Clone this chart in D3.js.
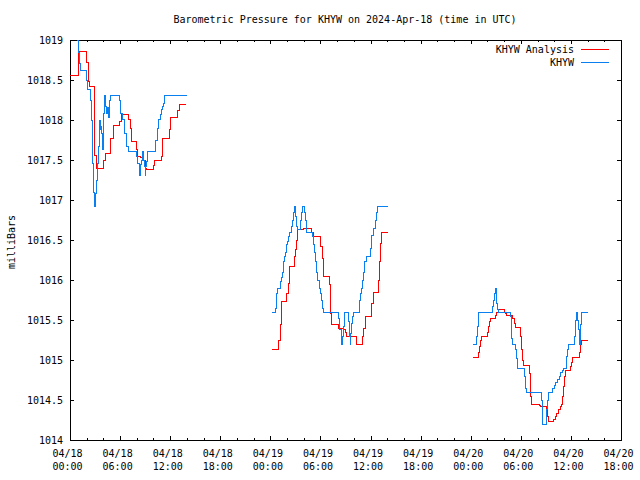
<!DOCTYPE html>
<html>
<head>
<meta charset="utf-8">
<script src="https://cdn.jsdelivr.net/npm/d3@7"></script>
<style>
  html, body { margin: 0; padding: 0; background: #fff; }
  svg { display: block; }
  text { font-family: "DejaVu Sans Mono", "Liberation Mono", monospace; font-size: 10px; fill: #000; }
</style>
</head>
<body>
<svg id="chart" width="640" height="480"></svg>
<script>
// ---------- DATA (hours since 2024-04-18 00:00 UTC, millibars) ----------
const chartTitle = "Barometric Pressure for KHYW on 2024-Apr-18 (time in UTC)";
const yLabel = "milliBars";
const seriesNames = ["KHYW Analysis", "KHYW"];
const yTicks = [1014, 1014.5, 1015, 1015.5, 1016, 1016.5, 1017, 1017.5, 1018, 1018.5, 1019];

const analysisDay1 = [
  [0, 1018.56], [1.0, 1018.86], [2.0, 1018.72], [2.2, 1018.48], [2.35, 1018.42],
  [2.95, 1017.56], [3.15, 1017.40], [4.0, 1017.49], [4.2, 1017.58], [4.9, 1017.77],
  [5.27, 1017.93], [5.95, 1017.98], [6.19, 1018.07], [6.99, 1018.01], [7.19, 1017.9],
  [7.31, 1017.73], [7.91, 1017.63], [8.07, 1017.54], [8.5, 1017.53], [8.86, 1017.5],
  [9.07, 1017.40], [9.19, 1017.38], [9.98, 1017.43], [10.18, 1017.49], [10.98, 1017.54],
  [11.1, 1017.77], [11.9, 1017.88], [12.06, 1018.03], [12.86, 1018.12], [13.1, 1018.2],
  [13.95, 1018.2]
];
const analysisDay2 = [
  [24.24, 1015.13], [24.96, 1015.24], [25.16, 1015.44], [25.28, 1015.63], [25.36, 1015.73],
  [25.96, 1015.83], [26.16, 1015.96], [26.24, 1016.08], [26.35, 1016.17], [26.95, 1016.29],
  [27.07, 1016.38], [27.15, 1016.5], [27.23, 1016.63], [28.0, 1016.65], [28.95, 1016.60],
  [29.15, 1016.55], [30.03, 1016.42], [30.2, 1016.27], [30.35, 1016.05], [31.03, 1015.94],
  [31.15, 1015.75], [31.23, 1015.58], [31.35, 1015.44], [32.15, 1015.40], [32.75, 1015.38],
  [32.95, 1015.35], [33.15, 1015.30], [33.62, 1015.29], [34.26, 1015.23], [34.34, 1015.20],
  [35.02, 1015.30], [35.14, 1015.40], [35.34, 1015.54], [36.14, 1015.71], [36.34, 1015.85],
  [37.01, 1016.0], [37.13, 1016.23], [37.21, 1016.46], [37.33, 1016.60], [38.06, 1016.60]
];
const analysisDay3 = [
  [48.31, 1015.03], [48.91, 1015.10], [49.03, 1015.17], [49.19, 1015.25], [49.31, 1015.30],
  [49.99, 1015.35], [50.11, 1015.42], [50.23, 1015.48], [50.39, 1015.52], [50.99, 1015.56],
  [51.11, 1015.60], [51.31, 1015.63], [51.99, 1015.60], [52.19, 1015.58], [52.31, 1015.56],
  [53.03, 1015.52], [53.19, 1015.46], [53.31, 1015.41], [53.99, 1015.29], [54.11, 1015.13],
  [54.22, 1015.0], [54.31, 1014.93], [54.98, 1014.83], [55.10, 1014.69], [55.19, 1014.54],
  [55.31, 1014.45], [56.18, 1014.43], [56.30, 1014.42], [57.10, 1014.38], [57.22, 1014.29],
  [57.30, 1014.23], [57.90, 1014.26], [58.10, 1014.29], [58.30, 1014.33], [58.50, 1014.38],
  [58.70, 1014.42], [58.90, 1014.45], [59.02, 1014.54], [59.10, 1014.67], [59.22, 1014.79],
  [59.38, 1014.87], [59.98, 1014.92], [60.10, 1014.97], [60.22, 1015.03], [61.02, 1015.10],
  [61.18, 1015.19], [61.30, 1015.25], [62.02, 1015.25]
];

const stationDay1 = [
  [0.88, 1019.0], [1.0, 1018.85], [1.12, 1018.71], [1.28, 1018.62], [2.0, 1018.5],
  [2.12, 1018.38], [2.48, 1018.25], [2.56, 1018.0], [2.64, 1017.75], [2.72, 1017.46],
  [2.8, 1017.10], [2.9, 1016.92], [3.0, 1017.0], [3.08, 1017.08], [3.2, 1017.25],
  [3.32, 1017.46], [3.44, 1017.67], [3.52, 1017.79], [3.59, 1018.0], [3.67, 1017.88],
  [3.75, 1017.92], [3.83, 1017.83], [3.91, 1017.63], [3.99, 1017.73], [4.07, 1018.08],
  [4.19, 1018.31], [4.31, 1018.17], [4.39, 1018.08], [4.51, 1018.16], [4.59, 1018.03],
  [4.71, 1018.16], [4.79, 1018.25], [4.87, 1018.31], [5.91, 1018.25], [5.99, 1018.08],
  [6.3, 1018.01], [6.55, 1017.83], [6.75, 1017.67], [6.99, 1017.61], [7.99, 1017.54],
  [8.11, 1017.46], [8.27, 1017.31], [8.39, 1017.38], [8.47, 1017.44], [8.59, 1017.5],
  [8.67, 1017.61], [8.79, 1017.5], [8.87, 1017.42], [8.99, 1017.31], [9.07, 1017.42],
  [9.19, 1017.48], [9.27, 1017.61], [10.3, 1017.75], [10.46, 1017.90], [10.58, 1018.01],
  [10.86, 1018.07], [10.98, 1018.13], [11.1, 1018.17], [11.18, 1018.21], [11.26, 1018.31],
  [13.98, 1018.31]
];
const stationDay2 = [
  [24.24, 1015.60], [24.56, 1015.65], [24.68, 1015.75], [24.76, 1015.83], [24.88, 1015.90],
  [25.16, 1015.98], [25.36, 1016.03], [25.47, 1016.10], [25.56, 1016.23], [25.68, 1016.29],
  [25.76, 1016.33], [25.87, 1016.35], [25.96, 1016.44], [26.08, 1016.48], [26.16, 1016.54],
  [26.28, 1016.60], [26.55, 1016.67], [26.67, 1016.75], [26.75, 1016.79], [26.83, 1016.85],
  [26.95, 1016.92], [27.03, 1016.85], [27.07, 1016.79], [27.15, 1016.67], [27.27, 1016.63],
  [27.55, 1016.67], [27.63, 1016.75], [27.75, 1016.85], [27.87, 1016.92], [28.07, 1016.85],
  [28.15, 1016.75], [28.27, 1016.67], [28.35, 1016.60], [29.03, 1016.54], [29.15, 1016.44],
  [29.27, 1016.35], [29.43, 1016.23], [29.55, 1016.10], [29.67, 1016.0], [29.83, 1015.90],
  [29.95, 1015.83], [30.15, 1015.75], [30.27, 1015.65], [30.35, 1015.60], [32.22, 1015.52],
  [32.34, 1015.38], [32.54, 1015.20], [32.66, 1015.29], [32.74, 1015.42], [32.86, 1015.52],
  [32.94, 1015.60], [33.34, 1015.48], [33.42, 1015.29], [33.54, 1015.20], [33.62, 1015.33],
  [33.74, 1015.46], [33.82, 1015.54], [33.94, 1015.60], [34.62, 1015.65], [34.66, 1015.75],
  [34.74, 1015.83], [34.86, 1015.90], [35.06, 1016.0], [35.14, 1016.10], [35.26, 1016.23],
  [35.46, 1016.29], [35.54, 1016.30], [36.02, 1016.40], [36.06, 1016.46], [36.14, 1016.56],
  [36.34, 1016.65], [36.54, 1016.75], [36.74, 1016.85], [36.82, 1016.92], [38.06, 1016.92]
];
const stationDay3 = [
  [48.31, 1015.20], [48.71, 1015.29], [48.83, 1015.42], [48.91, 1015.60], [50.63, 1015.67],
  [50.71, 1015.75], [50.83, 1015.83], [50.91, 1015.90], [51.03, 1015.81], [51.11, 1015.71],
  [51.23, 1015.63], [51.31, 1015.60], [52.71, 1015.54], [52.83, 1015.42], [52.91, 1015.27],
  [52.99, 1015.20], [53.39, 1015.13], [53.51, 1015.02], [53.59, 1014.90], [54.39, 1014.79],
  [54.51, 1014.71], [54.59, 1014.65], [54.70, 1014.60], [56.50, 1014.50], [56.58, 1014.33],
  [56.62, 1014.20], [57.02, 1014.27], [57.10, 1014.38], [57.18, 1014.50], [57.30, 1014.60],
  [57.8, 1014.64], [58.0, 1014.68], [58.2, 1014.72], [58.4, 1014.76], [58.6, 1014.80],
  [58.8, 1014.84], [59.0, 1014.87], [59.10, 1014.89], [59.42, 1014.96], [59.50, 1015.04],
  [59.58, 1015.13], [59.70, 1015.20], [60.41, 1015.29], [60.49, 1015.40], [60.57, 1015.50],
  [60.61, 1015.60], [60.77, 1015.50], [60.89, 1015.38], [60.97, 1015.29], [61.01, 1015.20],
  [61.09, 1015.31], [61.17, 1015.44], [61.21, 1015.60], [62.01, 1015.60]
];

// ---------- CHART ----------
const seriesColors = ["#ff0000", "#0a80f0"];
const series = [
  { name: seriesNames[0], color: seriesColors[0], segments: [analysisDay1, analysisDay2, analysisDay3] },
  { name: seriesNames[1], color: seriesColors[1], segments: [stationDay1, stationDay2, stationDay3] }
];

const t0 = Date.UTC(2024, 3, 18, 0, 0);
const toDate = h => new Date(t0 + h * 3600e3);

const m = { left: 70, right: 621, top: 40, bottom: 440 };

const svg = d3.select("#chart");

const x = d3.scaleUtc().domain([toDate(0), toDate(66)]).range([m.left, m.right]);
const y = d3.scaleLinear().domain([1014, 1019]).range([m.bottom, m.top]);

const majorTimes = d3.utcHour.every(6).range(toDate(0), toDate(66.01));
const minorTimes = d3.utcHour.every(2).range(toDate(0), toDate(66.01))
  .filter(d => d.getUTCHours() % 6 !== 0);

const fmtDay = d3.utcFormat("%m/%d");
const fmtTime = d3.utcFormat("%H:%M");

svg.append("defs").append("clipPath").attr("id", "plotclip")
  .append("rect").attr("x", m.left).attr("y", m.top)
  .attr("width", m.right - m.left).attr("height", m.bottom - m.top);

// bottom major axis with two-line labels
const xAxisB = svg.append("g").attr("transform", `translate(0,${m.bottom})`)
  .call(d3.axisBottom(x).tickValues(majorTimes).tickSizeInner(-4).tickSizeOuter(0).tickFormat(""));
xAxisB.select(".domain").remove();
xAxisB.selectAll(".tick text").each(function(d) {
  const t = d3.select(this).attr("y", null).attr("dy", null).attr("fill", "#000");
  t.append("tspan").attr("x", -3).attr("y", 17).text(fmtDay(d));
  t.append("tspan").attr("x", -3).attr("y", 30).text(fmtTime(d));
});
svg.append("g").attr("transform", `translate(0,${m.bottom})`)
  .call(d3.axisBottom(x).tickValues(minorTimes).tickSizeInner(-2).tickSizeOuter(0).tickFormat(""))
  .call(g => g.select(".domain").remove());
svg.append("g").attr("transform", `translate(0,${m.top})`)
  .call(d3.axisTop(x).tickValues(majorTimes).tickSizeInner(-4).tickSizeOuter(0).tickFormat(""))
  .call(g => g.select(".domain").remove());
svg.append("g").attr("transform", `translate(0,${m.top})`)
  .call(d3.axisTop(x).tickValues(minorTimes).tickSizeInner(-2).tickSizeOuter(0).tickFormat(""))
  .call(g => g.select(".domain").remove());

const yAxisL = svg.append("g").attr("transform", `translate(${m.left},0)`)
  .call(d3.axisLeft(y).tickValues(yTicks).tickSizeInner(-4).tickSizeOuter(0).tickPadding(7)
    .tickFormat(d => String(d)));
yAxisL.select(".domain").remove();
yAxisL.selectAll(".tick text").attr("fill", "#000").attr("dy", "0.35em");
svg.append("g").attr("transform", `translate(${m.right},0)`)
  .call(d3.axisRight(y).tickValues(yTicks).tickSizeInner(-4).tickSizeOuter(0).tickFormat(""))
  .call(g => g.select(".domain").remove());

svg.selectAll(".tick line").attr("stroke", "#000").attr("shape-rendering", "crispEdges");
svg.selectAll(".tick text")
  .style("font-family", "'DejaVu Sans Mono', 'Liberation Mono', monospace").style("font-size", "10px");

svg.append("rect").attr("x", m.left).attr("y", m.top)
  .attr("width", m.right - m.left).attr("height", m.bottom - m.top)
  .attr("fill", "none").attr("stroke", "#000").attr("stroke-width", 1)
  .attr("shape-rendering", "crispEdges");

const line = d3.line()
  .x(d => x(toDate(d[0])))
  .y(d => y(d[1]))
  .curve(d3.curveStepAfter);

const plot = svg.append("g").attr("clip-path", "url(#plotclip)");
series.forEach(s => {
  plot.append("g").selectAll("path").data(s.segments).join("path")
    .attr("d", line)
    .attr("fill", "none")
    .attr("stroke", s.color)
    .attr("stroke-width", 1)
    .attr("shape-rendering", "crispEdges");
});

svg.append("text").attr("x", 345).attr("y", 23).attr("text-anchor", "middle").text(chartTitle);

svg.append("text").attr("transform", "translate(15,242) rotate(-90)")
  .attr("text-anchor", "middle").text(yLabel);

const legend = svg.append("g");
series.forEach((s, i) => {
  const ly = 49 + i * 13;
  legend.append("text").attr("x", 574).attr("y", ly + 4).attr("text-anchor", "end").text(s.name);
  legend.append("line").attr("x1", 581).attr("x2", 609).attr("y1", ly).attr("y2", ly)
    .attr("stroke", s.color).attr("stroke-width", 1).attr("shape-rendering", "crispEdges");
});
</script>
</body>
</html>
